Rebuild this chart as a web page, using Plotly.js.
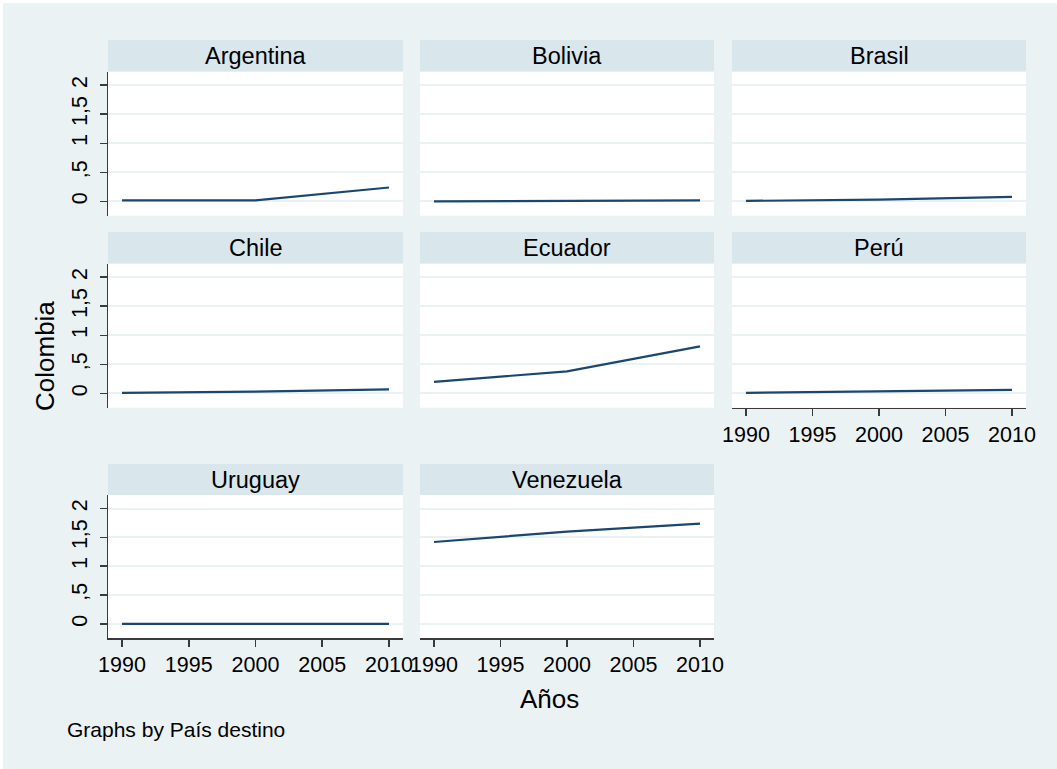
<!DOCTYPE html>
<html>
<head>
<meta charset="utf-8">
<script src="https://cdn.plot.ly/plotly-3.0.1.min.js"></script>
<style>
html,body{margin:0;padding:0;background:#ffffff;}
#chart{position:absolute;left:3px;top:3px;width:1054px;height:766px;}
</style>
</head>
<body>
<div id="chart"></div>
<script>
// ---- data ----
var years = [1990, 2000, 2010];
var countries = ['Argentina', 'Bolivia', 'Brasil', 'Chile', 'Ecuador', 'Perú', 'Uruguay', 'Venezuela'];
var argentina = [0.02, 0.02, 0.24];
var bolivia   = [0.00, 0.01, 0.02];
var brasil    = [0.01, 0.03, 0.08];
var chile     = [0.01, 0.03, 0.07];
var ecuador   = [0.20, 0.38, 0.81];
var peru      = [0.01, 0.03, 0.06];
var uruguay   = [0.00, 0.00, 0.00];
var venezuela = [1.42, 1.60, 1.74];
var xTickVals = [1990, 1995, 2000, 2005, 2010];
var yTickVals = [0, 0.5, 1, 1.5, 2];
var yTickText = ['0', ',5', '1', '1,5', '2'];
var yTitle = 'Colombia';
var xTitle = 'Años';
var note = 'Graphs by País destino';

var series = [argentina, bolivia, brasil, chile, ecuador, peru, uruguay, venezuela];

// ---- layout geometry (page pixels) ----
var W = 1054, H = 766, OFF = 3;
function px(x){ return (x - OFF) / W; }
function py(y){ return 1 - (y - OFF) / H; }
var colX = [[108, 403], [420, 714], [732, 1026]];
var rowStrip = [[40, 71.5], [232, 263.5], [464, 495]];
var rowPlot = [[71.5, 215.7], [263.5, 407.7], [495, 638]];

var font = 'Liberation Sans, Arial, Helvetica, sans-serif';
var lineCol = '#1a476f';
var axisCol = '#3a3a3a';
var gridCol = '#eaf2f3';
var bottomPanels = [5, 6, 7];

var data = [];
var layout = {
  width: W, height: H,
  margin: {l: 0, r: 0, t: 0, b: 0},
  paper_bgcolor: '#eaf2f3',
  plot_bgcolor: '#ffffff',
  showlegend: false,
  font: {family: font, color: '#000000', size: 21},
  shapes: [],
  annotations: []
};

for (var i = 0; i < countries.length; i++) {
  var row = Math.floor(i / 3), col = i % 3;
  var n = i === 0 ? '' : String(i + 1);
  data.push({
    x: years, y: series[i],
    type: 'scatter', mode: 'lines',
    line: {color: lineCol, width: 2.2},
    xaxis: 'x' + n, yaxis: 'y' + n,
    hoverinfo: 'skip'
  });
  var showX = bottomPanels.indexOf(i) >= 0;
  var showY = col === 0;
  layout['xaxis' + n] = {
    domain: [px(colX[col][0]), px(colX[col][1])],
    anchor: 'y' + n,
    range: [1988.95, 2011.05],
    showgrid: false, zeroline: false,
    showline: showX, linecolor: axisCol, linewidth: 1.5,
    ticks: showX ? 'outside' : '', ticklen: 7, tickwidth: 1.5, tickcolor: axisCol,
    tickvals: xTickVals,
    showticklabels: showX,
    tickfont: {family: font, size: 21.5, color: '#000'},
    fixedrange: true
  };
  layout['yaxis' + n] = {
    domain: [py(rowPlot[row][1]), py(rowPlot[row][0])],
    anchor: 'x' + n,
    range: [-0.245, 2.235],
    showgrid: true, gridcolor: gridCol, gridwidth: 2,
    zeroline: false,
    showline: showY, linecolor: axisCol, linewidth: 1.5,
    ticks: showY ? 'outside' : '', ticklen: 7, tickwidth: 1.5, tickcolor: axisCol,
    tickvals: yTickVals, ticktext: yTickText,
    showticklabels: showY,
    tickangle: -90,
    ticklabelstandoff: 4,
    tickfont: {family: font, size: 21.5, color: '#000'},
    fixedrange: true
  };
  // strip
  layout.shapes.push({
    type: 'rect', xref: 'paper', yref: 'paper', layer: 'below',
    x0: px(colX[col][0]), x1: px(colX[col][1]),
    y0: py(rowStrip[row][1]), y1: py(rowStrip[row][0]),
    fillcolor: '#d9e6eb', line: {width: 0}
  });
  layout.annotations.push({
    xref: 'paper', yref: 'paper',
    x: px((colX[col][0] + colX[col][1]) / 2),
    y: py((rowStrip[row][0] + rowStrip[row][1]) / 2),
    xanchor: 'center', yanchor: 'middle',
    text: countries[i], showarrow: false,
    font: {family: font, size: 23.5, color: '#000'}
  });
}

layout.annotations.push({
  xref: 'paper', yref: 'paper', x: px(45), y: py(356),
  xanchor: 'center', yanchor: 'middle', textangle: -90,
  text: yTitle, showarrow: false,
  font: {family: font, size: 26, color: '#000'}
});
layout.annotations.push({
  xref: 'paper', yref: 'paper', x: px(549), y: py(699),
  xanchor: 'center', yanchor: 'middle',
  text: xTitle, showarrow: false,
  font: {family: font, size: 26, color: '#000'}
});
layout.annotations.push({
  xref: 'paper', yref: 'paper', x: px(65), y: py(729),
  xanchor: 'left', yanchor: 'middle',
  text: note, showarrow: false,
  font: {family: font, size: 21, color: '#000'}
});

Plotly.newPlot('chart', data, layout, {staticPlot: true, displayModeBar: false});
</script>
</body>
</html>
